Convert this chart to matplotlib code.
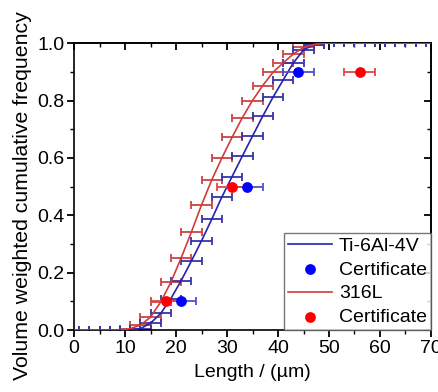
import numpy as np
import matplotlib
matplotlib.use("Agg")
import matplotlib.pyplot as plt
from matplotlib.ticker import MultipleLocator

plt.rcParams['font.family'] = ['Liberation Sans', 'DejaVu Sans']

# Size bins (µm)
length = [1, 3, 5, 7, 9, 11, 13, 15, 17, 19, 21, 23, 25, 27, 29, 31, 33, 35,
          37, 39, 41, 43, 45, 47, 49, 51, 53, 55, 57, 59, 61, 63, 65, 67, 69]
ti64 = [0.0, 0.0, 0.0, 0.0, 0.0, 0.0, 0.005, 0.024, 0.058, 0.110, 0.172, 0.240,
        0.311, 0.386, 0.464, 0.535, 0.606, 0.676, 0.745, 0.811, 0.871, 0.931,
        0.976, 0.995, 1.0, 1.0, 1.0, 1.0, 1.0, 1.0, 1.0, 1.0, 1.0, 1.0, 1.0]
ss316 = [0.0, 0.0, 0.0, 0.0, 0.0, 0.005, 0.017, 0.045, 0.098, 0.167, 0.251,
         0.341, 0.436, 0.523, 0.600, 0.672, 0.740, 0.800, 0.852, 0.898, 0.931,
         0.962, 0.985, 0.995, 1.0, 1.0, 1.0, 1.0, 1.0, 1.0, 1.0, 1.0, 1.0, 1.0, 1.0]
length_err = 2.0

# Certificate values (D10, D50, D90)
cert_frac = [0.1, 0.5, 0.9]
ti64_cert = [21, 34, 44]
ss316_cert = [18, 31, 56]
cert_err = 3.0

blue_line = '#2323b0'
red_line = '#d23b3b'
blue_bar = '#3535a8'
red_bar = '#cc4444'

fig = plt.figure(figsize=(4.38, 3.92), dpi=100)
ax = fig.add_axes([0.169, 0.158, 0.815, 0.732])

ax.errorbar(length, ss316, xerr=length_err, fmt='none', ecolor=red_bar,
            elinewidth=1.3, capsize=2.8, capthick=1.3, zorder=2)
ax.errorbar(length, ti64, xerr=length_err, fmt='none', ecolor=blue_bar,
            elinewidth=1.3, capsize=2.8, capthick=1.3, zorder=2)

l1, = ax.plot([0] + length + [70], [0] + ti64 + [1.0], color=blue_line, lw=1.2, zorder=3)
l2, = ax.plot([0] + length + [70], [0] + ss316 + [1.0], color=red_line, lw=1.2, zorder=3)

ax.errorbar(ti64_cert, cert_frac, xerr=cert_err, fmt='none', ecolor='#5050d0',
            elinewidth=1.3, capsize=2.8, capthick=1.3, zorder=4)
ax.errorbar(ss316_cert, cert_frac, xerr=cert_err, fmt='none', ecolor='#e04848',
            elinewidth=1.3, capsize=2.8, capthick=1.3, zorder=4)
p1 = ax.scatter(ti64_cert, cert_frac, s=60, color='#0000ff', zorder=5, linewidths=0)
p2 = ax.scatter(ss316_cert, cert_frac, s=60, color='#ff0000', zorder=5, linewidths=0)

ax.set_xlim(0, 70)
ax.set_ylim(0, 1.0)
ax.xaxis.set_major_locator(MultipleLocator(10))
ax.xaxis.set_minor_locator(MultipleLocator(5))
ax.yaxis.set_major_locator(MultipleLocator(0.2))
ax.yaxis.set_minor_locator(MultipleLocator(0.1))
ax.yaxis.set_major_formatter(matplotlib.ticker.FormatStrFormatter('%.1f'))
ax.tick_params(which='major', direction='out', length=5, width=1.3, labelsize=14, pad=2)
ax.tick_params(which='minor', direction='out', length=3, width=1.0)

secx = ax.secondary_xaxis('top')
secx.xaxis.set_major_locator(MultipleLocator(10))
secx.xaxis.set_minor_locator(MultipleLocator(5))
secx.tick_params(which='major', direction='in', length=5, width=1.3, labeltop=False)
secx.tick_params(which='minor', direction='in', length=3, width=1.0)
secy = ax.secondary_yaxis('right')
secy.yaxis.set_major_locator(MultipleLocator(0.2))
secy.yaxis.set_minor_locator(MultipleLocator(0.1))
secy.tick_params(which='major', direction='in', length=5, width=1.3, labelright=False)
secy.tick_params(which='minor', direction='in', length=3, width=1.0)

for s in ax.spines.values():
    s.set_linewidth(1.2)
secx.spines['top'].set_linewidth(1.2)
secy.spines['right'].set_linewidth(1.2)

ax.set_xlabel('Length / (µm)', fontsize=14, labelpad=5)
ax.set_ylabel('Volume weighted cumulative frequency', fontsize=15.3)
ax.yaxis.set_label_coords(-0.118, 0.47)

leg = ax.legend([l1, p1, l2, p2], ['Ti-6Al-4V', 'Certificate', '316L', 'Certificate'],
                loc='lower right', fontsize=14, frameon=True, fancybox=False,
                borderaxespad=0, borderpad=0.2, handlelength=2.3, handletextpad=0.35,
                labelspacing=0.32, scatterpoints=1)
leg.get_frame().set_edgecolor('#555555')
leg.get_frame().set_linewidth(1.0)

fig.savefig('out.png', dpi=100)
